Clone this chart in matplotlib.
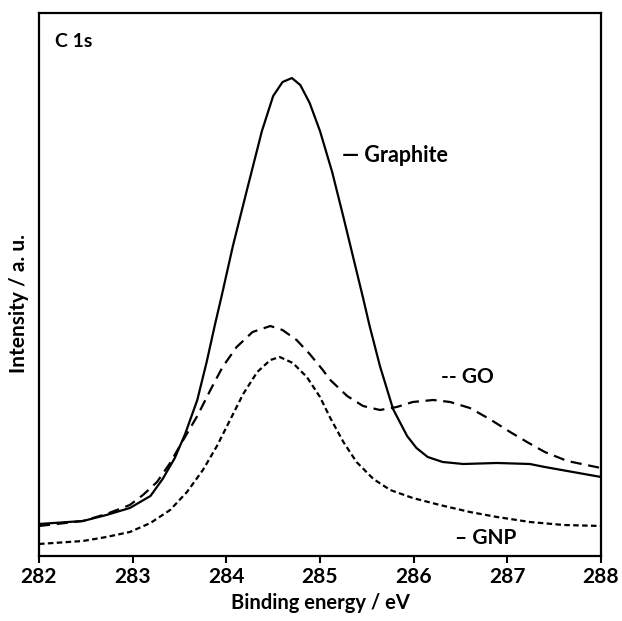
import numpy as np
import matplotlib.pyplot as plt

plt.rcParams['font.family'] = ['Lato', 'DejaVu Sans']
plt.rcParams['font.weight'] = 'bold'

# C 1s spectra (intensity in arbitrary units)
graphite_x = [282.0, 282.47, 282.72, 282.97, 283.19, 283.32, 283.45, 283.56, 283.69, 283.79,
              283.88, 283.95, 284.07, 284.22, 284.38, 284.50, 284.60, 284.70, 284.79, 284.89,
              285.0, 285.13, 285.25, 285.39, 285.46, 285.53, 285.64, 285.78, 285.93, 286.03,
              286.15, 286.31, 286.53, 286.89, 287.24, 287.40, 287.64, 288.0]
graphite_y = [32, 35, 41, 48, 60, 77, 98, 122, 156, 194,
              232, 260, 310, 366, 425, 460, 474, 478, 471, 453,
              425, 384, 339, 285, 258, 230, 190, 147, 120, 108,
              99, 94, 92, 93, 92, 89, 85, 79]

go_x = [282.0, 282.47, 282.72, 282.97, 283.11, 283.26, 283.40, 283.54, 283.69, 283.83,
        283.96, 284.11, 284.28, 284.47, 284.60, 284.75, 284.89, 285.03, 285.11, 285.29,
        285.46, 285.64, 285.82, 285.99, 286.21, 286.39, 286.60, 286.81, 287.03, 287.21,
        287.40, 287.64, 288.0]
go_y = [30, 35, 42, 51, 61, 74, 93, 116, 140, 166,
        189, 209, 224, 230, 226, 216, 202, 186, 176, 160,
        150, 146, 149, 154, 156, 154, 148, 137, 124, 114,
        104, 95, 88]

gnp_x = [282.0, 282.47, 282.72, 282.97, 283.19, 283.40, 283.58, 283.75, 283.90, 284.04,
         284.18, 284.33, 284.47, 284.57, 284.71, 284.86, 285.0, 285.11, 285.25, 285.39,
         285.57, 285.75, 285.99, 286.28, 286.60, 286.89, 287.24, 287.60, 288.0]
gnp_y = [12, 15, 19, 24, 33, 46, 64, 86, 110, 136,
         162, 184, 196, 199, 193, 179, 159, 138, 114, 94,
         77, 66, 58, 51, 44, 39, 34, 31, 30]

xticks = [282, 283, 284, 285, 286, 287, 288]

fig = plt.figure(figsize=(6.22, 6.21), dpi=100)
ax = fig.add_axes([0.0627, 0.1047, 0.9035, 0.8743])

ax.plot(graphite_x, graphite_y, color='black', lw=1.6, ls='-')
ax.plot(go_x, go_y, color='black', lw=1.6, ls=(0, (5, 3)))
ax.plot(gnp_x, gnp_y, color='black', lw=1.6, ls=(0, (2.5, 1.5)))

ax.set_xlim(282, 288)
ax.set_ylim(0, 543)
ax.set_xticks(xticks)
ax.set_xticklabels([str(t) for t in xticks])
ax.set_yticks([])
ax.tick_params(axis='x', direction='out', length=5, width=1.5, labelsize=15, pad=3)
for s in ax.spines.values():
    s.set_linewidth(1.6)

ax.set_xlabel('Binding energy / eV', fontsize=14.5, fontweight='bold', labelpad=4)
ax.set_ylabel('Intensity / a. u.', fontsize=15, fontweight='bold')
ax.yaxis.set_label_coords(-0.018, 0.465)

ax.text(0.028, 0.948, 'C 1s', transform=ax.transAxes, fontsize=14, fontweight='bold', va='center')
ax.text(0.540, 0.737, '\u2014 Graphite', transform=ax.transAxes, fontsize=15.5, fontweight='bold', va='center')
ax.text(0.716, 0.329, '-- GO', transform=ax.transAxes, fontsize=15, fontweight='bold', va='center')
ax.text(0.740, 0.034, '\u2013 GNP', transform=ax.transAxes, fontsize=15, fontweight='bold', va='center')

plt.savefig('out.png', dpi=100)
